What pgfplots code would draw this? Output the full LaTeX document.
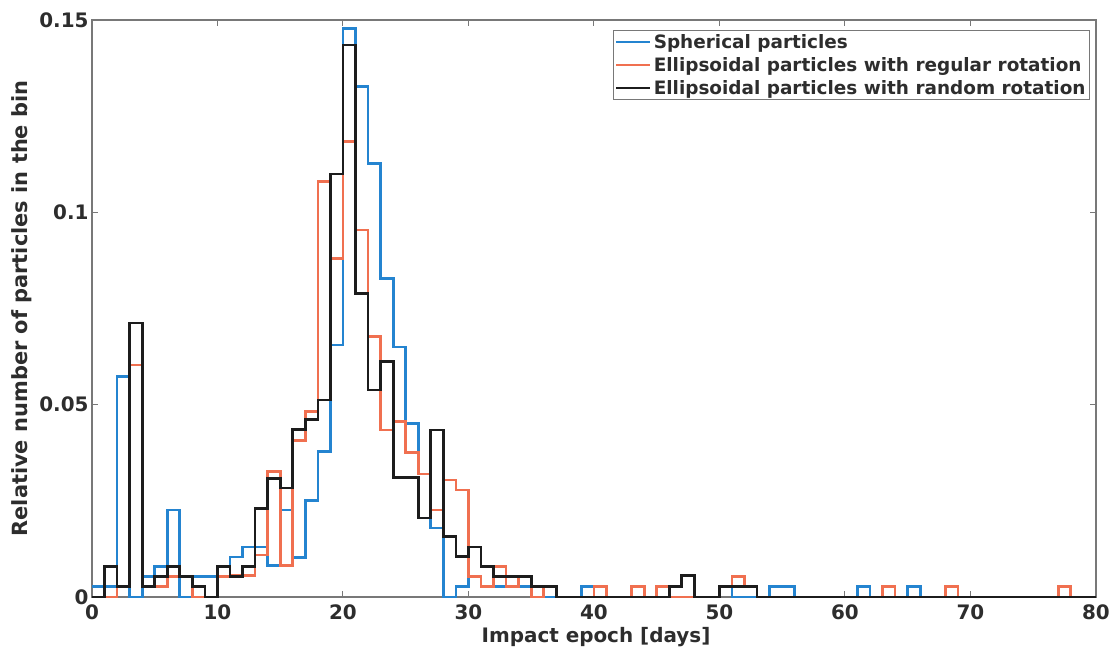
\documentclass[border=0pt]{standalone}
\usepackage{fontspec}
\setmainfont{DejaVu Sans}
\usepackage{pgfplots}
\usepackage{pgfplotstable}
\pgfplotsset{compat=1.18}
\definecolor{mblue}{RGB}{36,132,208}
\definecolor{mred}{RGB}{240,112,80}
\definecolor{mblack}{RGB}{28,28,28}
\definecolor{axgray}{RGB}{120,120,120}
\definecolor{txtgray}{RGB}{45,45,45}
\pgfplotstableread{
x  b       r       k
0  0.0027  0       0
1  0.0027  0       0.0079
2  0.0573  0.0027  0.0027
3  0       0.0603  0.0712
4  0.0053  0.0027  0.0027
5  0.0079  0.0027  0.0053
6  0.0226  0.0053  0.0079
7  0       0.0053  0.0053
8  0.0053  0       0.0027
9  0.0053  0       0
10 0.0053  0.0053  0.0079
11 0.0104  0.0055  0.0053
12 0.0130  0.0055  0.0079
13 0.0130  0.0109  0.0230
14 0.0081  0.0326  0.0308
15 0.0226  0.0081  0.0283
16 0.0103  0.0406  0.0436
17 0.0250  0.0482  0.0462
18 0.0378  0.1080  0.0512
19 0.0655  0.0880  0.1100
20 0.1478  0.1184  0.1435
21 0.1327  0.0954  0.0789
22 0.1127  0.0677  0.0538
23 0.0828  0.0434  0.0612
24 0.0650  0.0456  0.0310
25 0.0451  0.0375  0.0310
26 0.0320  0.0320  0.0205
27 0.0179  0.0226  0.0434
28 0       0.0304  0.0157
29 0.0027  0.0278  0.0105
30 0.0053  0.0053  0.0130
31 0.0027  0.0027  0.0079
32 0.0027  0.0079  0.0053
33 0.0027  0.0027  0.0053
34 0.0027  0.0053  0.0053
35 0       0       0.0027
36 0       0.0027  0.0027
37 0       0       0
38 0       0       0
39 0.0027  0       0
40 0       0.0027  0
41 0       0       0
42 0       0       0
43 0       0.0027  0
44 0       0       0
45 0       0.0027  0
46 0       0       0.0027
47 0       0       0.0055
48 0       0       0
49 0       0       0
50 0.0027  0.0027  0.0027
51 0       0.0053  0.0027
52 0       0.0027  0.0027
53 0       0       0
54 0.0027  0       0
55 0.0027  0       0
56 0       0       0
57 0       0       0
58 0       0       0
59 0       0       0
60 0       0       0
61 0.0027  0       0
62 0       0       0
63 0       0.0027  0
64 0       0       0
65 0.0027  0       0
66 0       0       0
67 0       0       0
68 0       0.0027  0
69 0       0       0
70 0       0       0
71 0       0       0
72 0       0       0
73 0       0       0
74 0       0       0
75 0       0       0
76 0       0       0
77 0       0.0027  0
78 0       0       0
79 0       0       0
80 0       0       0
}\data
\begin{document}
\begin{tikzpicture}
\path[use as bounding box] (-92bp,-55bp) rectangle (1023bp,597bp);
\begin{axis}[
  scale only axis,
  width=1004bp, height=577bp,
  xmin=0, xmax=80, ymin=0, ymax=0.15,
  xtick={0,10,...,80},
  xticklabels={0,10,20,30,40,50,60,70,80},
  ytick={0,0.05,0.1,0.15},
  yticklabels={0,0.05,0.1,0.15},
  tick align=inside,
  major tick length=6bp,
  axis line style={axgray, line width=1.2pt},
  tick style={axgray, line width=1pt},
  tick label style={font=\bfseries\fontsize{20}{20}\selectfont, text=txtgray},
  xticklabel style={yshift=-4bp},
  yticklabel style={xshift=0bp},
  xlabel={Impact epoch [days]},
  ylabel={Relative number of particles in the bin},
  xlabel style={font=\bfseries\fontsize{20}{20}\selectfont, text=txtgray, at={(axis description cs:0.502,-0.069)}, anchor=center},
  ylabel style={font=\bfseries\fontsize{21}{21}\selectfont, text=txtgray, at={(axis description cs:-0.0700,0.5)}, anchor=center},
  legend style={at={(0.994,0.983)}, anchor=north east, draw=axgray, line width=0.8pt,
    font=\bfseries\fontsize{18.5}{18.5}\selectfont, text=txtgray, inner sep=2pt, row sep=3.5bp,
    cells={anchor=west}},
  legend image code/.code={\draw[#1, line width=2.6pt] (0bp,0bp) -- (34bp,0bp);},
]
\addplot[const plot, mblue, line width=2.7pt, line join=miter] table[x=x, y=b] {\data};
\addplot[const plot, mred, line width=2.7pt, line join=miter] table[x=x, y=r] {\data};
\addplot[const plot, mblack, line width=2.7pt, line join=miter] table[x=x, y=k] {\data};
\legend{Spherical particles, Ellipsoidal particles with regular rotation, Ellipsoidal particles with random rotation}
\end{axis}
\end{tikzpicture}
\end{document}
